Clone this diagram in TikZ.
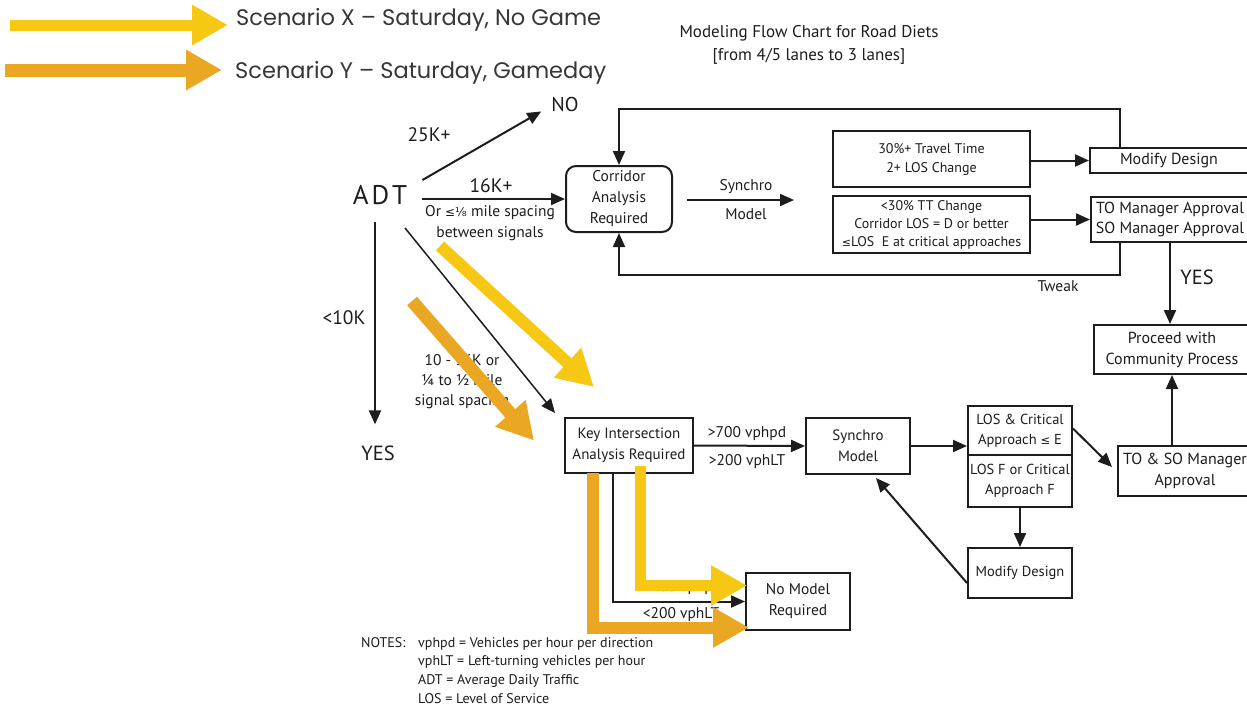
\documentclass[tikz,border=0pt]{standalone}
\usepackage{fontspec}
\setmainfont{PT Sans}
\newfontfamily\lgfont{Poppins}
\newfontfamily\symf{DejaVu Sans}
\usetikzlibrary{arrows.meta,calc}
\definecolor{ylw}{RGB}{246,200,20}
\definecolor{org}{RGB}{233,167,35}
\definecolor{ink}{RGB}{30,28,29}
\definecolor{lgray}{RGB}{55,55,55}
\newcommand\fs[2]{\fontsize{#1}{#2}\selectfont}
\begin{document}
\begin{tikzpicture}[x=1pt,y=-1pt,
  box/.style={draw=ink, line width=2pt, align=center, inner sep=0pt, text=ink, font=\fs{14.5}{18}},
  lbl/.style={inner sep=0pt, text=ink, align=center},
  arr/.style={draw=ink, line width=2pt, -{Triangle[length=14pt,width=12pt]}},
  fat/.style={line width=#1, -{Triangle[length=36pt,width=38pt]}, line join=miter}
]
\useasboundingbox (0,0) rectangle (1247,713);
\fill[white] (0,0) rectangle (1247,713);

% legend
\node[lbl, anchor=west, text=lgray, font=\lgfont\fs{22.5}{26}] (lx) at (236,20) {Scenario X – Saturday, No Game};
\node[lbl, anchor=west, text=lgray, font=\lgfont\fs{22.5}{26}] (ly) at (235,73) {Scenario Y – Saturday, Gameday};
\coordinate (lxs) at (10,25);
\coordinate (lys) at (5,70);

% title
\node[lbl, font=\fs{17}{23}] (title) at (809,45) {Modeling Flow Chart for Road Diets\\{[from 4/5 lanes to 3 lanes]}};

% boxes
\node[box, rounded corners=10pt, minimum width=106pt, minimum height=66pt, font=\fs{15.5}{21}] (corr) at (619,199) {Corridor\\Analysis\\Required};
\node[box, minimum width=197pt, minimum height=56pt, font=\fs{14}{19}] (tt1) at (931.5,159) {30\%+ Travel Time\\2+ LOS Change};
\node[box, minimum width=197pt, minimum height=57pt, font=\fs{14}{18}] (tt2) at (931.5,224.5) {<30\% TT Change\\Corridor LOS = D or better\\{\symf\fs{11}{18}≤}LOS\ \ E at critical approaches};
\node[box, minimum width=158pt, minimum height=25pt, font=\fs{16}{18}] (md1) at (1169,160.5) {Modify Design};
\node[box, minimum width=158pt, minimum height=45pt, font=\fs{16}{20}] (tom) at (1170,219.5) {TO Manager Approval\\SO Manager Approval};
\node[box, minimum width=156pt, minimum height=49pt, font=\fs{16}{21}] (proc) at (1172,349.5) {Proceed with\\Community Process};
\node[box, minimum width=134pt, minimum height=50pt, font=\fs{16}{21}] (toso) at (1185,471) {TO \& SO Manager\\Approval};
\node[box, minimum width=128pt, minimum height=55pt, font=\fs{15}{21}] (key) at (629,445.5) {Key Intersection\\Analysis Required};
\node[box, minimum width=104pt, minimum height=56pt, font=\fs{15}{21}] (syn) at (858,446) {Synchro\\Model};
\node[box, minimum width=104pt, minimum height=49pt, font=\fs{14.5}{20}] (los1) at (1020,430.5) {LOS \& Critical\\Approach {\symf\fs{11.5}{18}≤} E};
\node[box, minimum width=104pt, minimum height=52pt, font=\fs{14.5}{20}] (los2) at (1020,481) {LOS F or Critical\\Approach F};
\node[box, minimum width=104pt, minimum height=50pt, font=\fs{14.5}{20}] (md2) at (1020,573) {Modify Design};
\node[box, minimum width=104pt, minimum height=57pt, font=\fs{15.5}{21}] (nomod) at (798,601.5) {No Model\\Required};

% text labels
\node[lbl, font=\fs{27}{30}] (adt) at (380,195) {A\kern3pt D\kern3pt T};
\node[lbl, font=\fs{20}{24}] (no) at (565,104) {NO};
\node[lbl, font=\fs{19.5}{22}] (l25) at (429,135) {25K+};
\node[lbl, font=\fs{19.5}{22}] (l16) at (491,186) {16K+};
\node[lbl, font=\fs{15.5}{21}] (l16b) at (490,223.5) {Or {\symf\fs{12}{18}≤⅛} mile spacing\\between signals};
\node[lbl, font=\fs{19.5}{22}] (l10k) at (344,318) {<10K};
\node[lbl, font=\fs{20.5}{24}] (yes1) at (378,453) {YES};
\node[lbl, font=\fs{15.5}{20}] (l10) at (462,382) {10 - 16K or\\¼ to ½ mile\\signal spacing};
\node[lbl, font=\fs{15.5}{20}] (sm1) at (746,187) {Synchro};
\node[lbl, font=\fs{15.5}{20}] (sm2) at (746,214) {Model};
\node[lbl, font=\fs{15.5}{20}] (tweak) at (1058,286) {Tweak};
\node[lbl, font=\fs{20.5}{24}] (yes2) at (1197,277) {YES};
\node[lbl, font=\fs{15.5}{20}] (g700) at (747,434) {>700 vphpd};
\node[lbl, font=\fs{15.5}{20}] (g200) at (747,462) {>200 vphLT};
\node[lbl, font=\fs{15.5}{20}] (s700) at (682,588) {<700 vphpd};
\node[lbl, font=\fs{15.5}{20}] (s200) at (681,615) {<200 vphLT};
\node[lbl, anchor=north west, align=left, font=\fs{14}{18.7}] (notesh) at (361,637) {NOTES:};
\node[lbl, anchor=north west, align=left, font=\fs{14}{18.7}] (notes) at (418,637) {vphpd = Vehicles per hour per direction\\vphLT = Left-turning vehicles per hour\\ADT = Average Daily Traffic\\LOS = Level of Service};

% connectors
\draw[arr] ([shift={(15,-15)}]adt.east) -- ([shift={(-10,0)}]no.south west);
\draw[arr] ([xshift=15pt]adt.east |- corr.west) -- (corr.west);
\draw[arr] ([shift={(-5,27)}]adt.center) -- ([shift={(-3,-21)}]yes1.north);
\draw[arr, line width=1.5pt] ([shift={(25,33)}]adt.center) -- ([shift={(-9,-4)}]key.north west);
\coordinate (smend) at (794,200);
\draw[arr] ([xshift=14pt]corr.east |- smend) -- (smend);
\draw[arr] (tt1.east |- md1.west) -- (md1.west);
\draw[arr] (tt2.east |- tom.west) -- (tom.west);
\draw[arr] ([xshift=-49pt]md1.north) -- ++(0,-38) -| (corr.north);
\draw[arr] ([xshift=-50pt]tom.south) -- ++(0,32) -| (corr.south);
\draw[arr] (tom.south) -- (tom.south |- proc.north);
\draw[arr] (proc.south |- toso.north) -- (proc.south);
\draw[arr] (key.east) -- (syn.west);
\draw[arr] (syn.east) -- (syn.east -| los1.west);
\draw[arr] ([yshift=2pt]los1.east) -- ([shift={(-5,-4)}]toso.west);
\draw[arr] (los2.south) -- (md2.north);
\draw[arr] ([yshift=-10pt]md2.west) -- ([shift={(18,3)}]syn.south);
\draw[arr] ([xshift=-16pt]key.south) |- (nomod.west);

% scenario arrows
\draw[fat=11pt, ylw] (lxs) -- ([xshift=-8pt]lx.west |- lxs);
\draw[fat=13pt, org] (lys) -- ([xshift=-13pt]ly.west |- lys);
\coordinate (yd) at (440,246);
\coordinate (od) at (412,301);
\draw[fat=12pt, ylw] (yd) -- ([shift={(30,-30)}]key.north west);
\draw[fat=13pt, org] (od) -- ([shift={(-30,-5)}]key.west);
\draw[fat=11pt, ylw] ([shift={(11,-8)}]key.south) |- ([shift={(2,-16)}]nomod.west);
\draw[fat=12pt, org] ([shift={(-36,-1)}]key.south) |- ([shift={(4,26)}]nomod.west);
\end{tikzpicture}
\end{document}
